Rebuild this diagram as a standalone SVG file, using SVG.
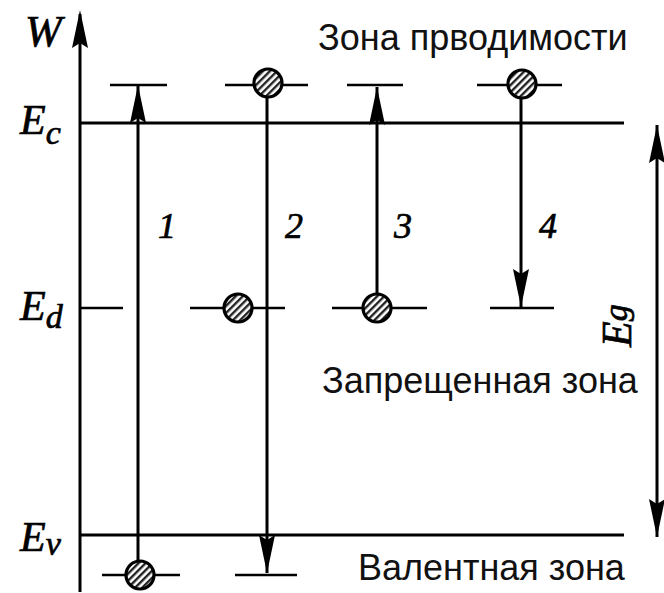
<svg xmlns="http://www.w3.org/2000/svg" width="664" height="593" viewBox="0 0 664 593">
<style>
.ln{stroke:#000;stroke-width:3;fill:none}
.th{stroke:#000;stroke-width:2.6;fill:none}
.mt{font-family:"Liberation Serif",serif;font-style:italic;fill:#000;stroke:#000;stroke-width:0.7}
.sb{font-family:"Liberation Sans",Arial,sans-serif;font-size:36px;fill:#111}
.el{fill:url(#hatch);stroke:#000;stroke-width:3.2}
</style>
<defs>
<pattern id="hatch" patternUnits="userSpaceOnUse" width="5" height="5" patternTransform="rotate(45)">
<rect width="5" height="5" fill="#fff"/>
<rect width="2.4" height="5" fill="#222"/>
</pattern>
<marker id="ah" viewBox="0 0 38 16" refX="38" refY="8" markerWidth="38" markerHeight="16" markerUnits="userSpaceOnUse" orient="auto-start-reverse">
<path d="M38 8 L0 0 L5 8 L0 16 Z" fill="#000"/>
</marker>
</defs>
<rect width="664" height="593" fill="#fff"/>
<g id="axes">
<line class="ln" x1="80" y1="592" x2="80" y2="14"/>
<path d="M80 10 L88 48 L80 43 L72 48 Z" fill="#000"/>
<line class="ln" x1="80" y1="123" x2="624" y2="123"/>
<line class="ln" x1="80" y1="535" x2="624" y2="535"/>
</g>
<g id="levels">
<line class="th" x1="110" y1="85" x2="167" y2="85"/>
<line class="th" x1="225" y1="85" x2="308" y2="85"/>
<line class="th" x1="347" y1="85" x2="403" y2="85"/>
<line class="th" x1="477" y1="85" x2="562" y2="85"/>
<line class="th" x1="80" y1="308" x2="123" y2="308"/>
<line class="th" x1="190" y1="308" x2="285" y2="308"/>
<line class="th" x1="332" y1="308" x2="427" y2="308"/>
<line class="th" x1="490" y1="308" x2="554" y2="308"/>
<line class="th" x1="102" y1="575" x2="180" y2="575"/>
<line class="th" x1="235" y1="575" x2="297" y2="575"/>
</g>
<g id="connectors">
<path d="M138 573 L138 85" class="ln" marker-end="url(#ah)"/>
<path d="M267 98 L267 573" class="ln" marker-end="url(#ah)"/>
<path d="M377 296 L377 87" class="ln" marker-end="url(#ah)"/>
<path d="M521 98 L521 307" class="ln" marker-end="url(#ah)"/>
<path d="M657 125 L657 537" class="ln" marker-start="url(#ah)" marker-end="url(#ah)"/>
</g>
<g id="electrons">
<circle class="el" cx="268" cy="83" r="14"/>
<circle class="el" cx="522" cy="84" r="14"/>
<circle class="el" cx="238" cy="308" r="14"/>
<circle class="el" cx="377" cy="308" r="14"/>
<circle class="el" cx="140" cy="575" r="14"/>
</g>
<g id="labels">
<text class="mt" x="25" y="46" font-size="44">W</text>
<text class="mt" x="20" y="134" font-size="42">E<tspan font-size="34" dy="10">c</tspan></text>
<text class="mt" x="20" y="320" font-size="42">E<tspan font-size="34" dy="8">d</tspan></text>
<text class="mt" x="20" y="551" font-size="42">E<tspan font-size="34" dy="4">v</tspan></text>
<text class="mt" transform="translate(631,347) rotate(-90)" font-size="42">E<tspan font-size="34" dy="-4">g</tspan></text>
<text class="mt" x="158" y="238" font-size="36">1</text>
<text class="mt" x="285" y="238" font-size="36">2</text>
<text class="mt" x="394" y="238" font-size="36">3</text>
<text class="mt" x="539" y="238" font-size="36">4</text>
<text class="sb" x="318" y="50">Зона прводимости</text>
<text class="sb" x="322" y="393">Запрещенная зона</text>
<text class="sb" x="358" y="580">Валентная зона</text>
</g>
</svg>
